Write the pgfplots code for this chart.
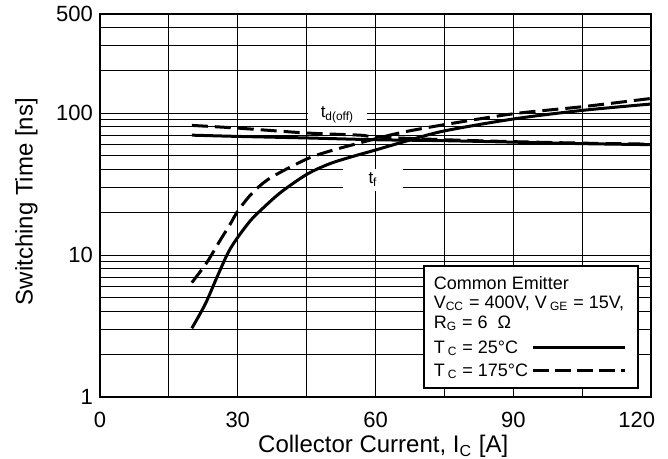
\documentclass[border=0pt]{standalone}
\usepackage{fontspec}
\setmainfont{Liberation Sans}
\usepackage{pgfplots}
\pgfplotsset{compat=1.18}
\begin{document}
\begin{tikzpicture}
\begin{axis}[
 set layers,
 at={(0,0)}, anchor=south west,
 scale only axis, width=275.5pt, height=191.5pt,
 xmin=0, xmax=120, ymode=log, ymin=1, ymax=500,
 xtick={0,30,60,90,120}, minor xtick={15,45,75,105},
 xticklabels={0,30,60,90,\makebox[4pt][r]{120}},
 ytick={1,10,100,500}, yticklabels={1,10,100,500},
 minor ytick={2,3,4,5,6,7,8,9,20,30,40,50,60,70,80,90,200,300,400},
 grid=both,
 major grid style={black, line width=0.5pt},
 minor grid style={black, line width=0.5pt},
 major tick length=0pt, minor tick length=0pt,
 axis line style={line width=0.6pt},
 tick label style={font=\fontsize{11}{13}\selectfont},
 /pgf/number format/assume math mode=true,
 xticklabel style={yshift=-4pt},
 xlabel={Collector Current, I\textsubscript{C} [A]},
 ylabel={Switching Time [ns]},
 label style={font=\fontsize{12}{14}\selectfont},
 xlabel style={at={(axis description cs:0.514,-0.1452)}, anchor=base},
 ylabel style={at={(axis description cs:-0.1225,0.51)}, anchor=base},
]
% t_f, Tc = 25 C
\addplot[line width=1.5pt, smooth] coordinates {
 (20,3.05) (22.9,4.5) (25.4,6.9) (27.9,10.4) (29.9,13.2) (32.7,17.4) (34.8,20.4)
 (39.2,27.4) (45,37) (50,44) (55,49.5) (60,55) (67,64) (75,75) (90,91)
 (105,104.6) (120,116)};
% t_f, Tc = 175 C
\addplot[line width=1.5pt, smooth, dash pattern=on 8pt off 3.5pt] coordinates {
 (20,6.4) (23.2,8.8) (26.1,12.6) (28.3,16.4) (30,20.4) (33,27) (37,34.8) (45,47.5)
 (50,54) (56.6,61.8) (60,66) (66,73.5) (75,83) (90,99) (105,111) (120,127)};
% t_d(off), Tc = 25 C
\addplot[line width=1.5pt, smooth] coordinates {
 (20,70) (30,68.6) (45,66.9) (60,65) (75,64) (90,62.5) (105,61) (120,60)};
% t_d(off), Tc = 175 C
\addplot[line width=1.5pt, smooth, dash pattern=on 8pt off 3.5pt] coordinates {
 (20,82) (30,78.5) (45,72.5) (56.6,70) (60,68) (75,65) (90,63) (105,61.5) (120,60.5)};

\begin{pgfonlayer}{pre main}
\node[fill=white, minimum width=29.5pt, minimum height=9pt, inner sep=0pt,
  font=\fontsize{8.5}{10}\selectfont] at (axis cs:51.7,97) {t\textsubscript{d(off)}};
\node[fill=white, minimum width=30pt, minimum height=11pt, inner sep=0pt,
  font=\fontsize{8.5}{10}\selectfont] at (axis cs:59.46,33.9) {t\textsubscript{f}};
\end{pgfonlayer}

\begin{pgfonlayer}{axis foreground}
\draw[fill=white, line width=0.7pt] (axis description cs:0.588,0.0235) rectangle (axis description cs:0.9764,0.342);
\node[anchor=base west, inner sep=0pt, font=\fontsize{9}{11}\selectfont] at (axis description cs:0.605,0.2812) {Common Emitter};
\node[anchor=base west, inner sep=0pt, font=\fontsize{9}{11}\selectfont] at (axis description cs:0.605,0.2316) {V\textsubscript{CC} = 400V, V\,\textsubscript{GE} = 15V,};
\node[anchor=base west, inner sep=0pt, font=\fontsize{9}{11}\selectfont] at (axis description cs:0.605,0.1794) {R\textsubscript{G} = 6\ \ Ω};
\node[anchor=base west, inner sep=0pt, font=\fontsize{9}{11}\selectfont] at (axis description cs:0.605,0.1131) {T\,\textsubscript{C} = 25°C};
\node[anchor=base west, inner sep=0pt, font=\fontsize{9}{11}\selectfont] at (axis description cs:0.605,0.0530) {T\,\textsubscript{C} = 175°C};
\draw[line width=1.5pt] (axis description cs:0.7858,0.1305) -- (axis description cs:0.9528,0.1305);
\draw[line width=1.5pt, dash pattern=on 8pt off 3pt] (axis description cs:0.7858,0.0697) -- (axis description cs:0.9528,0.0697);
\end{pgfonlayer}
\end{axis}
\pgfresetboundingbox
\useasboundingbox (-50pt,-31pt) rectangle (284pt,198.5pt);
\end{tikzpicture}
\end{document}
